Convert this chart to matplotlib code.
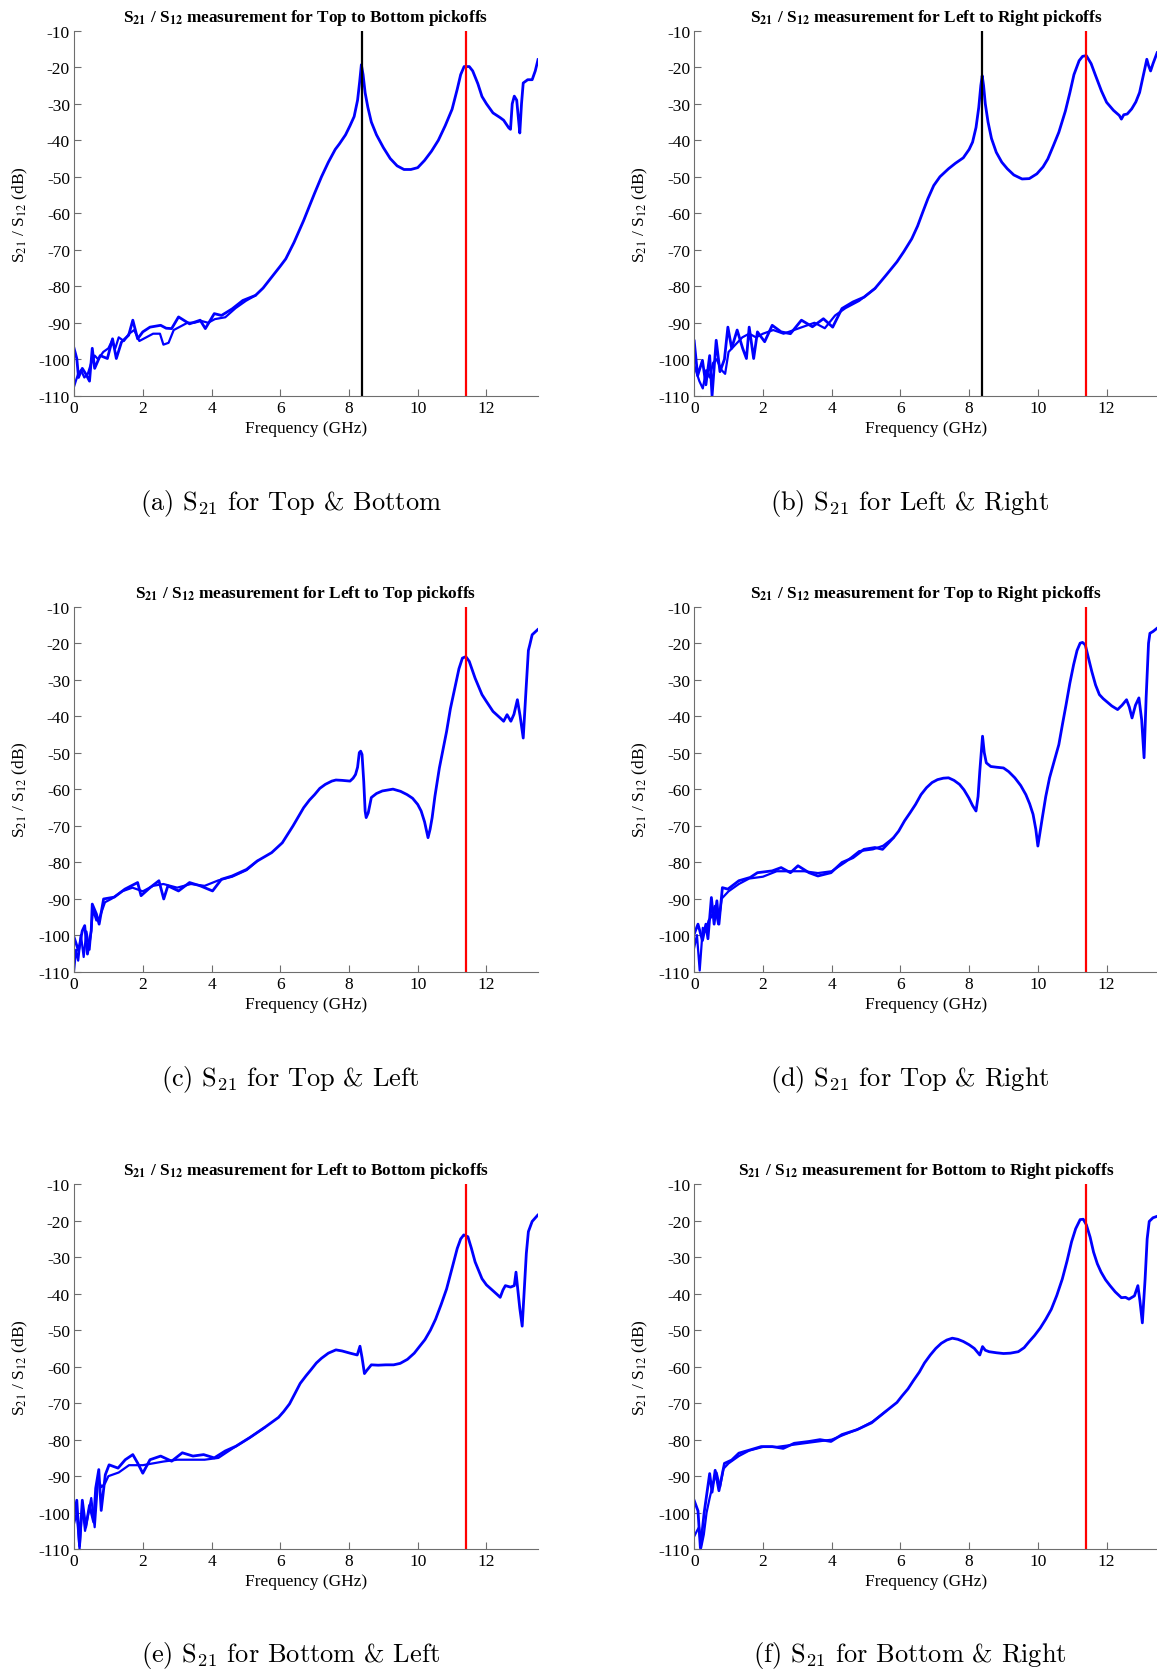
import matplotlib
matplotlib.use("Agg")
import matplotlib.pyplot as plt

plt.rcParams["font.family"] = ["Liberation Serif", "DejaVu Serif"]
plt.rcParams["mathtext.default"] = "rm"
plt.rcParams["axes.unicode_minus"] = False

# ---- (a) Top to Bottom ----
f_a = [0, 0.08, 0.13, 0.24, 0.34, 0.45, 0.53, 0.6, 0.76, 0.97, 1.12, 1.23, 1.38, 1.59, 1.71,
       1.85, 2.0, 2.21, 2.52, 2.68, 2.84, 3.04, 3.36, 3.67, 3.82, 4.08, 4.29, 4.6, 4.91, 5.28,
       5.5, 5.75, 6.0, 6.16, 6.4, 6.68, 6.85, 7.0, 7.2, 7.4, 7.6, 7.72, 7.9, 8.03, 8.15, 8.25,
       8.31, 8.36, 8.41, 8.47, 8.55, 8.65, 8.8, 9.0, 9.2, 9.4, 9.6, 9.8, 10.0, 10.2, 10.4,
       10.6, 10.8, 11.0, 11.15, 11.25, 11.35, 11.5, 11.6, 11.75, 11.87, 12.0, 12.19, 12.4,
       12.5, 12.65, 12.7, 12.75, 12.81, 12.88, 12.93, 12.97, 13.02, 13.07, 13.2, 13.33, 13.42,
       13.5]
s21_a = [-97, -99.8, -105, -102.5, -104, -106, -97, -102.5, -99, -99.8, -94.4, -99.8, -95.3,
         -93.4, -89.3, -94.4, -92.5, -91.2, -90.7, -91.5, -91.6, -88.4, -90.3, -89.3, -91.6,
         -87.5, -88, -86.2, -83.9, -82.5, -80.5, -77.5, -74.5, -72.5, -68, -62, -58, -54.5,
         -50, -46, -42.5, -41, -38.5, -36, -33.5, -29, -24, -19.3, -22, -27, -31, -35, -38.5,
         -42, -45, -47, -48, -48, -47.5, -45.5, -43, -40, -36, -31.5, -26, -22, -19.8, -19.8,
         -21, -24.5, -28, -30, -32.5, -33.8, -34.5, -36.6, -37, -30, -27.9, -29, -34, -38, -30,
         -24.3, -23.4, -23.4, -21, -17.9]
f_a2 = [0, 0.05, 0.12, 0.2, 0.3, 0.4, 0.5, 0.6, 0.7, 0.85, 1.0, 1.1, 1.2, 1.3, 1.45, 1.6, 1.75,
        1.9, 2.1, 2.3, 2.5, 2.6, 2.75, 2.9, 3.1, 3.3, 3.5, 3.7, 3.9, 4.1, 4.4, 4.7, 5.0, 5.28]
s12_a = [-107.5, -106, -104, -103, -105, -104, -101, -99, -100, -98, -97, -95, -97, -94, -95,
         -93, -92, -95, -94, -93, -93, -96, -95.5, -92, -91, -90, -90, -89.5, -90, -89, -88.5,
         -86, -84, -82.5]

# ---- (b) Left to Right ----
f_b = [0, 0.1, 0.24, 0.34, 0.45, 0.52, 0.64, 0.75, 0.88, 0.98, 1.09, 1.25, 1.41, 1.52, 1.6,
       1.73, 1.84, 2.05, 2.27, 2.53, 2.8, 3.12, 3.44, 3.76, 4.03, 4.3, 4.62, 4.94, 5.26, 5.58,
       5.9, 6.1, 6.33, 6.5, 6.65, 6.8, 6.97, 7.15, 7.4, 7.6, 7.83, 8.0, 8.1, 8.2, 8.28, 8.34,
       8.38, 8.42, 8.47, 8.55, 8.65, 8.79, 8.95, 9.11, 9.3, 9.54, 9.75, 9.97, 10.15, 10.29,
       10.45, 10.61, 10.8, 10.93, 11.05, 11.2, 11.3, 11.41, 11.55, 11.68, 11.85, 12.0, 12.2,
       12.37, 12.43, 12.5, 12.6, 12.73, 12.85, 12.96, 13.05, 13.12, 13.17, 13.22, 13.28, 13.35,
       13.47]
s21_b = [-95, -104.5, -100.3, -107, -99, -110, -94.8, -103.4, -100, -91.2, -97, -92, -97,
         -99.8, -91.2, -99.8, -92.5, -95.2, -90.7, -92.5, -93, -89.3, -91.1, -88.9, -91.2,
         -86.1, -84.3, -83, -80.6, -77, -73.3, -70.5, -67, -63.5, -59.7, -56, -52.4, -50,
         -47.8, -46.3, -44.8, -42.5, -40.5, -36.5, -31, -25, -22.3, -25, -30, -35, -39.5,
         -43.3, -46, -47.8, -49.5, -50.6, -50.5, -49.2, -47.3, -45.1, -41.5, -37.8, -32, -27,
         -22, -18.2, -17, -16.8, -19, -22.3, -26.5, -29.6, -31.8, -33.2, -34.2, -33, -32.8,
         -31.4, -29.5, -26.9, -23, -20, -17.8, -19.5, -21, -19, -16]
f_b2 = [0, 0.08, 0.15, 0.25, 0.35, 0.45, 0.55, 0.65, 0.8, 0.9, 1.0, 1.2, 1.4, 1.6, 1.8, 2.0,
        2.3, 2.6, 2.9, 3.2, 3.5, 3.8, 4.1, 4.4, 4.8, 5.26]
s12_b = [-101.6, -104, -106, -108, -103, -105, -101, -100, -103, -104, -98, -96, -94, -93, -94,
         -93, -92, -93, -92, -91, -90, -91.5, -88, -86, -84, -80.6]

# ---- (c) Left to Top ----
f_c = [0, 0.13, 0.24, 0.31, 0.39, 0.5, 0.53, 0.65, 0.73, 0.86, 1.17, 1.48, 1.85, 1.95, 2.21,
       2.47, 2.61, 2.73, 3.04, 3.36, 3.67, 4.03, 4.29, 4.6, 5.02, 5.33, 5.75, 6.06, 6.37, 6.68,
       6.85, 7.0, 7.15, 7.31, 7.5, 7.62, 7.8, 8.03, 8.12, 8.19, 8.25, 8.3, 8.34, 8.38, 8.43,
       8.47, 8.5, 8.56, 8.65, 8.8, 8.97, 9.28, 9.5, 9.69, 9.85, 10.0, 10.1, 10.2, 10.3, 10.36,
       10.42, 10.5, 10.63, 10.84, 10.95, 11.1, 11.2, 11.3, 11.4, 11.5, 11.67, 11.87, 12.0,
       12.19, 12.4, 12.5, 12.6, 12.71, 12.8, 12.9, 12.98, 13.07, 13.15, 13.22, 13.26, 13.33,
       13.49]
s21_c = [-100.6, -104.3, -98.8, -97.4, -105.2, -98.8, -91.5, -94.2, -97, -90.1, -89.6, -87.4,
         -85.6, -89.2, -87, -85.1, -90.1, -86.5, -87.9, -85.6, -86.5, -87.9, -84.7, -83.8, -82,
         -79.7, -77.4, -74.7, -70.1, -65.1, -63, -61.5, -59.8, -58.7, -57.8, -57.5, -57.6,
         -57.8, -57, -56, -54, -50, -49.6, -50.5, -58, -66, -67.8, -66.5, -62.3, -61.2, -60.5,
         -60, -60.6, -61.5, -62.5, -64.2, -66, -69, -73.3, -71, -67.8, -62, -54.2, -44.2, -38,
         -31.4, -27, -24.1, -23.7, -25, -29.6, -34.1, -36, -38.7, -40.5, -41.4, -39.6, -41.4,
         -39.5, -35.5, -40, -46, -33, -22, -20.5, -17.7, -16.3]
f_c2 = [0, 0.06, 0.12, 0.2, 0.28, 0.36, 0.45, 0.55, 0.65, 0.75, 0.9, 1.1, 1.4, 1.7, 2.0, 2.3,
        2.6, 3.0, 3.4, 3.8, 4.2, 4.6, 5.02, 5.33]
s12_c = [-109.7, -104, -107, -100, -106, -99, -104, -93, -96, -95, -91, -90, -88, -87, -88,
         -86.5, -86, -87, -86, -86.5, -85, -84, -82.2, -79.7]

# ---- (d) Top to Right ----
f_d = [0, 0.11, 0.24, 0.34, 0.4, 0.5, 0.58, 0.66, 0.72, 0.82, 0.98, 1.3, 1.63, 1.84, 2.27,
       2.53, 2.8, 3.02, 3.34, 3.6, 3.98, 4.3, 4.62, 4.94, 5.26, 5.48, 5.8, 5.95, 6.12, 6.28,
       6.44, 6.6, 6.76, 6.92, 7.08, 7.25, 7.4, 7.56, 7.72, 7.85, 7.99, 8.1, 8.2, 8.26, 8.31,
       8.39, 8.44, 8.5, 8.63, 8.8, 9.0, 9.15, 9.33, 9.5, 9.65, 9.76, 9.86, 9.94, 10.0, 10.06,
       10.13, 10.23, 10.34, 10.47, 10.61, 10.72, 10.82, 10.93, 11.04, 11.14, 11.23, 11.3,
       11.38, 11.47, 11.57, 11.68, 11.79, 11.9, 12.0, 12.15, 12.32, 12.45, 12.58, 12.66,
       12.74, 12.84, 12.94, 13.02, 13.09, 13.15, 13.22, 13.26, 13.35, 13.47]
s21_d = [-99.7, -97, -101.5, -97, -101, -89.7, -97, -90.6, -97, -87, -87.4, -85.1, -84.2,
         -82.9, -82.4, -81.5, -82.9, -81, -82.9, -83.8, -82.9, -80.1, -78.8, -76.5, -76, -76.5,
         -73.3, -71.5, -68.7, -66.5, -64.2, -61.5, -59.6, -58.2, -57.4, -57, -56.9, -57.6,
         -58.7, -60.2, -62.4, -64.5, -66, -62, -55.1, -45.5, -50, -52.8, -53.8, -54, -54.2,
         -55.2, -56.9, -59, -61.5, -64, -66.9, -71, -75.6, -72, -67.8, -62, -56.9, -52.5,
         -47.8, -42, -36.9, -31, -25.9, -22, -20, -19.8, -20.5, -24, -27.8, -31.5, -34.1,
         -35.2, -36, -37.2, -38.2, -37, -35.5, -37.5, -40.5, -37, -35, -41, -51.4, -35, -20,
         -17.3, -16.8, -15.9]
f_d2 = [0, 0.08, 0.16, 0.25, 0.33, 0.42, 0.5, 0.6, 0.7, 0.8, 1.0, 1.3, 1.6, 2.0, 2.4, 2.8, 3.2,
        3.6, 4.0, 4.4, 4.8, 5.2, 5.5, 5.8]
s12_d = [-103.4, -100, -109.7, -98, -99, -96, -95, -92, -97, -90, -88, -86, -84.5, -84, -82.5,
         -82.5, -82.5, -83, -82.5, -80, -77, -76.5, -75.5, -73.3]

# ---- (e) Left to Bottom ----
f_e = [0, 0.08, 0.16, 0.24, 0.34, 0.45, 0.57, 0.63, 0.72, 0.79, 0.91, 1.02, 1.28, 1.49, 1.71,
       1.85, 2.0, 2.21, 2.52, 2.84, 3.15, 3.46, 3.77, 4.08, 4.4, 4.71, 5.12, 5.54, 5.95, 6.1,
       6.27, 6.42, 6.58, 6.75, 6.89, 7.05, 7.2, 7.4, 7.62, 7.8, 8.03, 8.24, 8.32, 8.38, 8.45,
       8.52, 8.65, 8.85, 9.07, 9.3, 9.49, 9.7, 9.9, 10.05, 10.21, 10.37, 10.52, 10.68, 10.84,
       11.0, 11.15, 11.25, 11.34, 11.46, 11.56, 11.67, 11.87, 12.0, 12.19, 12.32, 12.4, 12.48,
       12.55, 12.7, 12.81, 12.86, 12.91, 12.97, 13.04, 13.1, 13.16, 13.22, 13.33, 13.49]
s21_e = [-100.7, -96.6, -109.1, -96.6, -104, -98, -102.6, -93.3, -88.2, -99.4, -89.6, -86.9,
         -87.8, -85.5, -84.1, -86.4, -89.2, -85.5, -84.5, -85.9, -83.6, -84.5, -84.1, -85,
         -83.1, -81.8, -79.4, -76.7, -73.9, -72.3, -70.2, -67.5, -64.6, -62.5, -60.9, -59,
         -57.7, -56.3, -55.4, -55.7, -56.3, -56.8, -54.4, -57.5, -61.9, -61, -59.5, -59.6,
         -59.5, -59.5, -59.1, -58, -56.3, -54.5, -52.6, -50, -47, -43, -38.7, -33, -27.6, -25,
         -23.9, -24.4, -27.5, -31.3, -35.9, -37.6, -39.2, -40.3, -41, -39, -37.8, -38.2, -37.8,
         -34.1, -38.7, -44, -48.9, -39, -29, -23, -20.2, -18.5]
f_e2 = [0, 0.08, 0.16, 0.24, 0.32, 0.4, 0.5, 0.6, 0.7, 0.8, 0.9, 1.0, 1.3, 1.6, 1.8, 2.0, 2.3,
        2.6, 3.0, 3.4, 3.8, 4.2, 4.6, 5.12, 5.54]
s12_e = [-103, -100, -110, -98, -105, -101, -96, -104, -91, -93, -92, -90, -89, -87, -87, -87,
         -86.5, -86, -85.5, -85.5, -85.5, -85, -82.5, -79.4, -76.7]

# ---- (f) Bottom to Right ----
f_f = [0, 0.11, 0.18, 0.29, 0.45, 0.52, 0.61, 0.72, 0.88, 1.09, 1.3, 1.63, 1.95, 2.27, 2.59,
       2.91, 3.34, 3.66, 3.98, 4.3, 4.73, 5.16, 5.58, 5.9, 6.05, 6.22, 6.38, 6.55, 6.7, 6.87,
       7.03, 7.19, 7.35, 7.51, 7.67, 7.83, 8.0, 8.15, 8.31, 8.39, 8.47, 8.58, 8.8, 9.0, 9.2,
       9.43, 9.6, 9.75, 9.9, 10.07, 10.23, 10.39, 10.55, 10.71, 10.85, 10.98, 11.1, 11.23,
       11.32, 11.41, 11.52, 11.62, 11.73, 11.84, 11.97, 12.1, 12.25, 12.43, 12.55, 12.65,
       12.81, 12.91, 12.97, 13.04, 13.12, 13.18, 13.24, 13.35, 13.47]
s21_f = [-96.7, -99.5, -109.7, -100, -89.3, -94.4, -88.4, -94, -86.5, -85.6, -83.7, -82.8,
         -81.9, -81.9, -82.4, -81, -80.5, -80, -80.5, -78.6, -77.3, -75.4, -72.2, -69.8, -68,
         -66.1, -63.8, -61.5, -59, -56.8, -55, -53.6, -52.7, -52.2, -52.5, -53.1, -54, -55,
         -56.8, -54.5, -55.5, -55.9, -56.2, -56.4, -56.3, -55.9, -54.8, -53.1, -51.5, -49.4,
         -47, -44.3, -40.5, -36, -31, -25.8, -22.2, -19.7, -19.6, -21.1, -24.5, -28.6, -31.8,
         -34.1, -36.2, -37.8, -39.5, -41.1, -41, -41.5, -40.6, -37.8, -42, -48, -36, -25,
         -20.2, -19.2, -18.8]
f_f2 = [0, 0.08, 0.14, 0.2, 0.28, 0.36, 0.45, 0.55, 0.65, 0.75, 0.85, 1.0, 1.3, 1.6, 2.0, 2.4,
        2.8, 3.2, 3.6, 4.0, 4.4, 4.8, 5.2, 5.58]
s12_f = [-106.5, -105, -104, -109.7, -106, -100, -96, -92, -89, -93, -88, -86.5, -84.5, -83,
         -82, -82, -81.5, -81, -80.5, -80, -78.5, -77, -75, -72.2]

titles = ["Top to Bottom", "Left to Right", "Left to Top",
          "Top to Right", "Left to Bottom", "Bottom to Right"]
captions = ["(a) S$_{21}$ for Top & Bottom", "(b) S$_{21}$ for Left & Right",
            "(c) S$_{21}$ for Top & Left", "(d) S$_{21}$ for Top & Right",
            "(e) S$_{21}$ for Bottom & Left", "(f) S$_{21}$ for Bottom & Right"]
s21_freqs = [f_a, f_b, f_c, f_d, f_e, f_f]
s21_vals = [s21_a, s21_b, s21_c, s21_d, s21_e, s21_f]
s12_freqs = [f_a2, f_b2, f_c2, f_d2, f_e2, f_f2]
s12_vals = [s12_a, s12_b, s12_c, s12_d, s12_e, s12_f]
black_marker = [8.37, 8.37, None, None, None, None]
red_marker = 11.41

fig = plt.figure(figsize=(11.57, 16.74), dpi=100)

col_left = [0.064, 0.600]
row_bottom = [0.763, 0.419, 0.074]
ax_w, ax_h = 0.401, 0.218
cap_x = [0.251, 0.786]
cap_y = [0.6995, 0.3554, 0.0113]

for i in range(6):
    r, c = divmod(i, 2)
    ax = fig.add_axes([col_left[c], row_bottom[r], ax_w, ax_h])
    ax.plot(s12_freqs[i], s12_vals[i], color="#0000ff", lw=1.6)
    ax.plot(s21_freqs[i], s21_vals[i], color="#0000ff", lw=2.0)
    if black_marker[i] is not None:
        ax.axvline(black_marker[i], color="black", lw=1.6)
    ax.axvline(red_marker, color="#ff0000", lw=1.6)

    ax.set_xlim(0, 13.5)
    ax.set_ylim(-110, -10)
    ax.set_xticks(range(0, 13, 2))
    ax.set_yticks(range(-110, -9, 10))
    for side in ["top", "right"]:
        ax.spines[side].set_visible(False)
    for side in ["left", "bottom"]:
        ax.spines[side].set_color("#6e6e6e")
    ax.tick_params(direction="in", length=5, color="#6e6e6e", labelsize=12.5, pad=3)

    ax.set_title("S$_\\mathbf{21}$ / S$_\\mathbf{12}$ measurement for " + titles[i] + " pickoffs",
                 fontsize=12.4, fontweight="bold", pad=7, math_fontfamily="stix")
    ax.set_xlabel("Frequency (GHz)", fontsize=12.5, labelpad=3)
    ax.set_ylabel("S$_{21}$ / S$_{12}$ (dB)", fontsize=12.5, labelpad=6, math_fontfamily="stix")

    fig.text(cap_x[c], cap_y[r], captions[i], fontsize=19, family="cmr10",
             ha="center", va="center", math_fontfamily="cm")

fig.savefig("out.png", dpi=100)
